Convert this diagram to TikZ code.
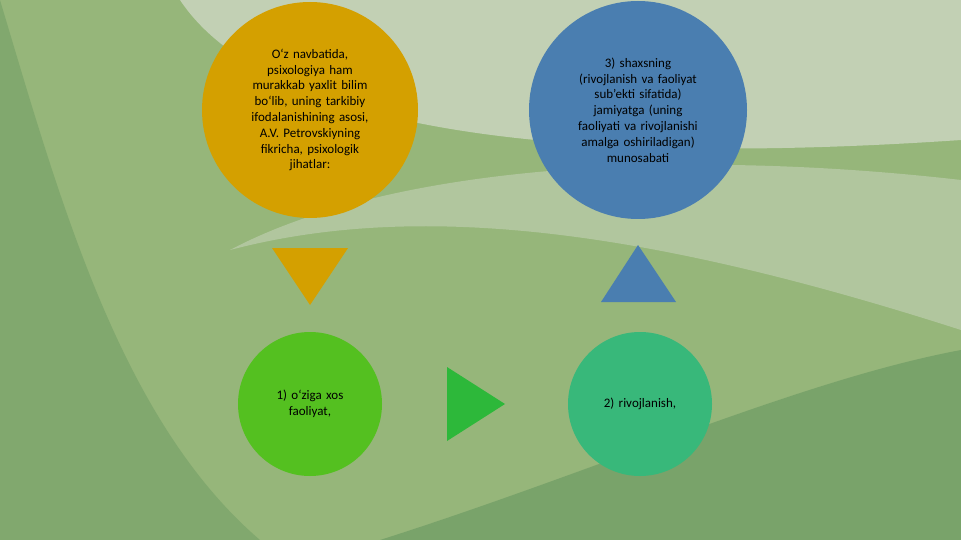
\documentclass[tikz,border=0pt]{standalone}
\usepackage{fontspec}
\setmainfont{Carlito}
\usetikzlibrary{shapes.geometric}
\definecolor{bgA}{RGB}{150,182,122}
\definecolor{bgL}{RGB}{205,215,195}
\definecolor{bgD}{RGB}{110,155,100}
\definecolor{cOr}{RGB}{212,160,0}
\definecolor{cBl}{RGB}{74,126,176}
\definecolor{cGr}{RGB}{84,192,32}
\definecolor{cTe}{RGB}{56,184,122}
\definecolor{cTr}{RGB}{45,184,58}
\tikzset{
 circ/.style={circle,inner sep=0pt,align=center,font=\fontsize{13}{15.8}\selectfont},
}
\begin{document}
\begin{tikzpicture}[x=1pt,y=-1pt]
\useasboundingbox (0,0) rectangle (961,540);
\fill[bgA] (0,0) rectangle (961,540);
\fill[bgL,opacity=0.8] (180,0) .. controls (260,120) and (520,170) .. (961,140) -- (961,0) -- cycle;
\fill[bgL,opacity=0.5] (230,250) .. controls (420,200) and (650,230) .. (961,330) -- (961,180) .. controls (700,150) and (400,160) .. (230,250) -- cycle;
\fill[bgD,opacity=0.7] (380,540) .. controls (600,470) and (800,380) .. (961,350) -- (961,540) -- cycle;
\fill[bgD,opacity=0.5] (0,0) .. controls (60,200) and (120,420) .. (260,540) -- (0,540) -- cycle;
\node[circ,fill=cOr,minimum size=216pt,text width=170pt] (c1) at (310,110) {O‘z navbatida,\\ psixologiya ham\\ murakkab yaxlit bilim\\ bo‘lib, uning tarkibiy\\ ifodalanishining asosi,\\ A.V. Petrovskiyning\\ fikricha, psixologik\\ jihatlar:};
\node[circ,fill=cBl,minimum size=218pt,text width=180pt] (c3) at (638,110) {3) shaxsning\\ (rivojlanish va faoliyat\\ sub'ekti sifatida)\\ jamiyatga (uning\\ faoliyati va rivojlanishi\\ amalga oshiriladigan)\\ munosabati};
\node[circ,fill=cGr,minimum size=144pt,text width=120pt] (c2) at (310,404) {1) o‘ziga xos\\ faoliyat,};
\node[circ,fill=cTe,minimum size=144pt,text width=120pt] (c4) at (640,404) {2) rivojlanish,};
\fill[cOr] (272,248) -- (348,248) -- (310,305) -- cycle;
\fill[cBl] (601,302) -- (676,302) -- (638,245) -- cycle;
\fill[cTr] (447,367) -- (447,441) -- (505,404) -- cycle;
\end{tikzpicture}
\end{document}
